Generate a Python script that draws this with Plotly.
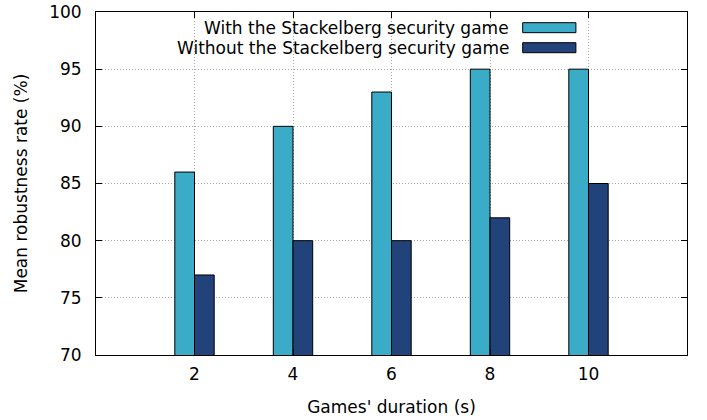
import plotly.graph_objects as go

# Game duration (s) and mean robustness rate (%) for each configuration
durations = [2, 4, 6, 8, 10]
with_ssg = [86, 90, 93, 95, 95]
without_ssg = [77, 80, 80, 82, 85]
series_names = ["With the Stackelberg security game",
                "Without the Stackelberg security game"]
y_ticks = [70, 75, 80, 85, 90, 95, 100]

colors = ["#3aacc8", "#21437a"]
font = "DejaVu Sans"
fsize = 17
bar_w = 0.4

fig = go.Figure()
fig.add_trace(go.Bar(x=durations, y=with_ssg, name=series_names[0],
                     width=bar_w, offset=-bar_w,
                     marker=dict(color=colors[0], line=dict(color="black", width=1))))
fig.add_trace(go.Bar(x=durations, y=without_ssg, name=series_names[1],
                     width=bar_w, offset=0,
                     marker=dict(color=colors[1], line=dict(color="black", width=1))))

# gnuplot-style key: right-aligned text followed by a filled sample box
rows = [(0.9688, 0.9397), (0.9105, 0.8813)]
for name, col, (y1, y0) in zip(series_names, colors, rows):
    fig.add_annotation(x=0.702, y=(y0 + y1) / 2, xref="paper", yref="paper",
                       text=name, showarrow=False, xanchor="right", yanchor="middle",
                       font=dict(family=font, size=fsize, color="black"))
    fig.add_shape(type="rect", xref="paper", yref="paper",
                  x0=0.722, x1=0.812, y0=y0, y1=y1,
                  fillcolor=col, line=dict(color="black", width=1))

axis_common = dict(showline=True, linecolor="black", linewidth=1, mirror="ticks",
                   ticks="inside", ticklen=6, tickcolor="black",
                   showgrid=True, gridcolor="#a8a8a8", griddash="1px,2px", gridwidth=1,
                   zeroline=False, automargin=False,
                   tickfont=dict(family=font, size=fsize, color="black"))

fig.update_layout(
    width=707, height=420,
    margin=dict(l=96, r=20, t=12, b=65),
    paper_bgcolor="white", plot_bgcolor="white",
    barmode="overlay", showlegend=False,
    font=dict(family=font, size=fsize, color="black"),
    xaxis=dict(range=[0, 12], tickvals=durations, ticklabelstandoff=4,
               title=dict(text="Games' duration (s)", font=dict(family=font, size=fsize),
                          standoff=17),
               **axis_common),
    yaxis=dict(range=[70, 100], tickvals=y_ticks, ticklabelstandoff=10,
               title=dict(text="Mean robustness rate (%)", font=dict(family=font, size=fsize),
                          standoff=17),
               **axis_common),
)

fig.write_html("out.html")
